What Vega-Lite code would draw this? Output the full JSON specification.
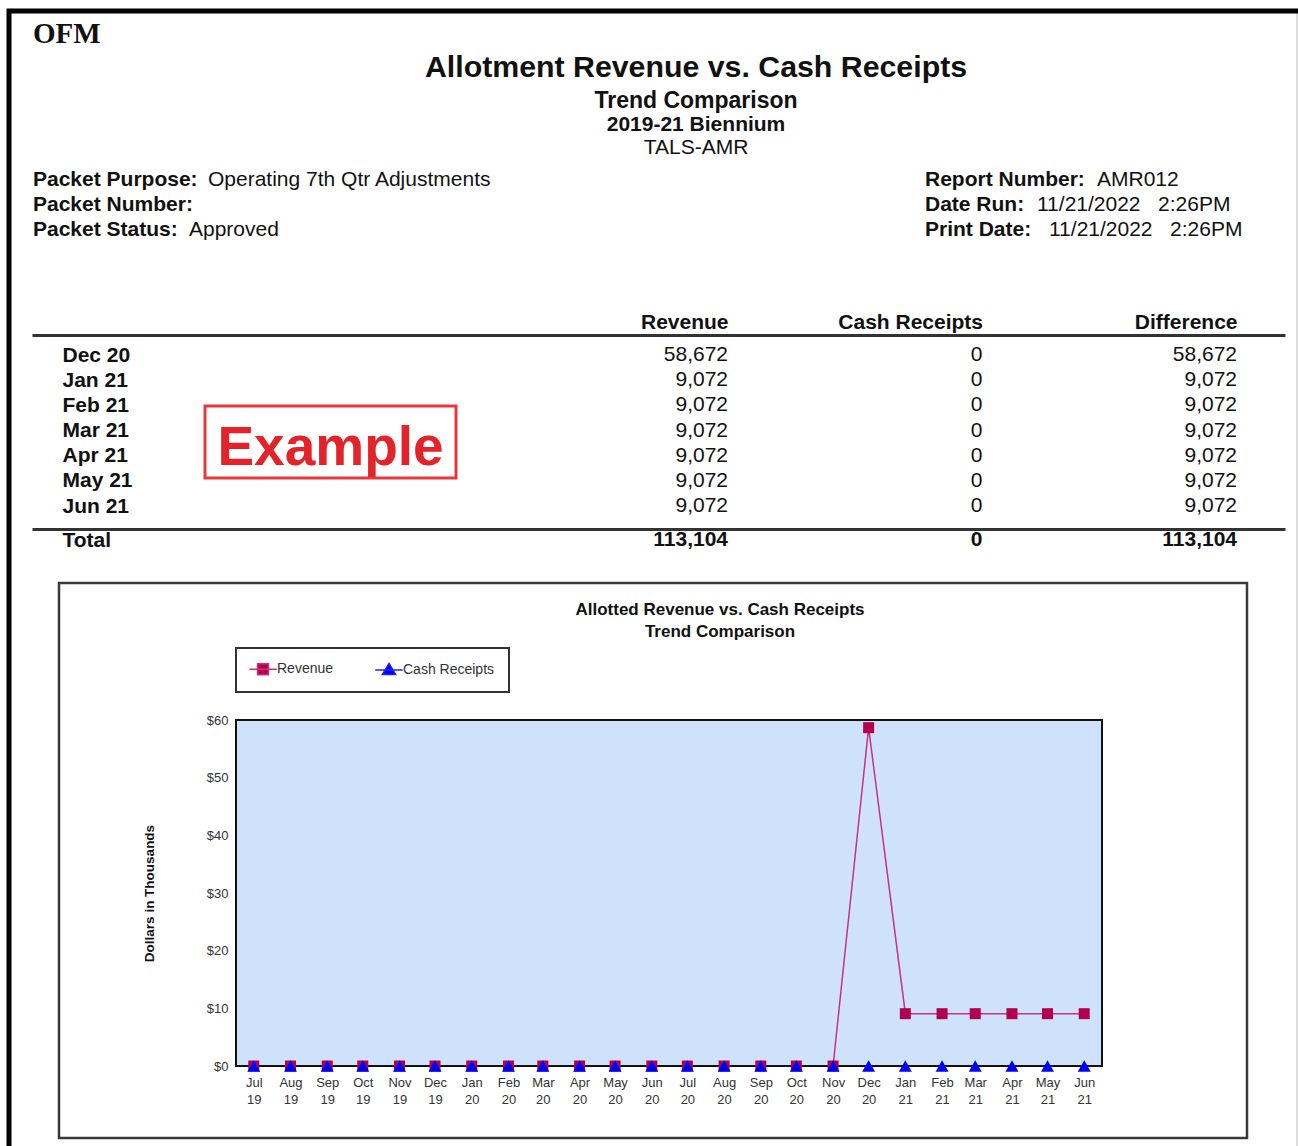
{
"$schema": "https://vega.github.io/schema/vega-lite/v6.json",
"autosize": "none",
"width": 1289,
"height": 1135,
"padding": {"left": 9, "top": 11, "right": 0, "bottom": 0},
"background": "#ffffff",
"config": {
  "view": {"stroke": null},
  "font": "Liberation Sans",
  "text": {"font": "Liberation Sans", "fontSize": 21, "color": "#111111", "baseline": "middle"},
  "axis": {"labelFont": "Liberation Sans", "titleFont": "Liberation Sans"},
  "legend": {"labelFont": "Liberation Sans", "strokeWidth": 2}
},
"datasets": {
  "info": [
    {"side": "left", "line": "i1", "label": "Packet Purpose:", "value": "Operating 7th Qtr Adjustments"},
    {"side": "left", "line": "i2", "label": "Packet Number:", "value": ""},
    {"side": "left", "line": "i3", "label": "Packet Status:", "value": "Approved"},
    {"side": "right", "line": "i1", "label": "Report Number:", "value": "AMR012"},
    {"side": "right", "line": "i2", "label": "Date Run:", "value": "11/21/2022\u00a0\u00a0\u00a02:26PM"},
    {"side": "right", "line": "i3", "label": "Print Date:", "value": "11/21/2022\u00a0\u00a0\u00a02:26PM"}
  ],
  "table": [
    {"month": "Dec 20", "Revenue": 58672, "Cash Receipts": 0, "Difference": 58672},
    {"month": "Jan 21", "Revenue": 9072, "Cash Receipts": 0, "Difference": 9072},
    {"month": "Feb 21", "Revenue": 9072, "Cash Receipts": 0, "Difference": 9072},
    {"month": "Mar 21", "Revenue": 9072, "Cash Receipts": 0, "Difference": 9072},
    {"month": "Apr 21", "Revenue": 9072, "Cash Receipts": 0, "Difference": 9072},
    {"month": "May 21", "Revenue": 9072, "Cash Receipts": 0, "Difference": 9072},
    {"month": "Jun 21", "Revenue": 9072, "Cash Receipts": 0, "Difference": 9072}
  ],
  "total": [
    {"month": "Total", "Revenue": 113104, "Cash Receipts": 0, "Difference": 113104}
  ],
  "trend": [
    {"date": "2019-07-01", "series": "Revenue", "value": 0},
    {"date": "2019-08-01", "series": "Revenue", "value": 0},
    {"date": "2019-09-01", "series": "Revenue", "value": 0},
    {"date": "2019-10-01", "series": "Revenue", "value": 0},
    {"date": "2019-11-01", "series": "Revenue", "value": 0},
    {"date": "2019-12-01", "series": "Revenue", "value": 0},
    {"date": "2020-01-01", "series": "Revenue", "value": 0},
    {"date": "2020-02-01", "series": "Revenue", "value": 0},
    {"date": "2020-03-01", "series": "Revenue", "value": 0},
    {"date": "2020-04-01", "series": "Revenue", "value": 0},
    {"date": "2020-05-01", "series": "Revenue", "value": 0},
    {"date": "2020-06-01", "series": "Revenue", "value": 0},
    {"date": "2020-07-01", "series": "Revenue", "value": 0},
    {"date": "2020-08-01", "series": "Revenue", "value": 0},
    {"date": "2020-09-01", "series": "Revenue", "value": 0},
    {"date": "2020-10-01", "series": "Revenue", "value": 0},
    {"date": "2020-11-01", "series": "Revenue", "value": 0},
    {"date": "2020-12-01", "series": "Revenue", "value": 58.672},
    {"date": "2021-01-01", "series": "Revenue", "value": 9.072},
    {"date": "2021-02-01", "series": "Revenue", "value": 9.072},
    {"date": "2021-03-01", "series": "Revenue", "value": 9.072},
    {"date": "2021-04-01", "series": "Revenue", "value": 9.072},
    {"date": "2021-05-01", "series": "Revenue", "value": 9.072},
    {"date": "2021-06-01", "series": "Revenue", "value": 9.072},
    {"date": "2019-07-01", "series": "Cash Receipts", "value": 0},
    {"date": "2019-08-01", "series": "Cash Receipts", "value": 0},
    {"date": "2019-09-01", "series": "Cash Receipts", "value": 0},
    {"date": "2019-10-01", "series": "Cash Receipts", "value": 0},
    {"date": "2019-11-01", "series": "Cash Receipts", "value": 0},
    {"date": "2019-12-01", "series": "Cash Receipts", "value": 0},
    {"date": "2020-01-01", "series": "Cash Receipts", "value": 0},
    {"date": "2020-02-01", "series": "Cash Receipts", "value": 0},
    {"date": "2020-03-01", "series": "Cash Receipts", "value": 0},
    {"date": "2020-04-01", "series": "Cash Receipts", "value": 0},
    {"date": "2020-05-01", "series": "Cash Receipts", "value": 0},
    {"date": "2020-06-01", "series": "Cash Receipts", "value": 0},
    {"date": "2020-07-01", "series": "Cash Receipts", "value": 0},
    {"date": "2020-08-01", "series": "Cash Receipts", "value": 0},
    {"date": "2020-09-01", "series": "Cash Receipts", "value": 0},
    {"date": "2020-10-01", "series": "Cash Receipts", "value": 0},
    {"date": "2020-11-01", "series": "Cash Receipts", "value": 0},
    {"date": "2020-12-01", "series": "Cash Receipts", "value": 0},
    {"date": "2021-01-01", "series": "Cash Receipts", "value": 0},
    {"date": "2021-02-01", "series": "Cash Receipts", "value": 0},
    {"date": "2021-03-01", "series": "Cash Receipts", "value": 0},
    {"date": "2021-04-01", "series": "Cash Receipts", "value": 0},
    {"date": "2021-05-01", "series": "Cash Receipts", "value": 0},
    {"date": "2021-06-01", "series": "Cash Receipts", "value": 0}
  ]
},
"layer": [
  {
    "data": {"values": [{}]},
    "mark": {"type": "rect", "filled": false, "stroke": "#bbbbbb", "strokeWidth": 1},
    "encoding": {
      "x": {"datum": 0, "type": "quantitative", "scale": {"domain": [0, 1], "range": [0, 1288], "nice": false, "zero": false}, "axis": null},
      "x2": {"datum": 1},
      "y": {"datum": 0, "type": "quantitative", "scale": {"domain": [0, 1], "range": [0, 1300], "nice": false, "zero": false}, "axis": null},
      "y2": {"datum": 1}
    }
  },
  {
    "data": {"values": [{}]},
    "mark": {"type": "rect", "filled": false, "stroke": "#000000", "strokeWidth": 5},
    "encoding": {
      "x": {"datum": 0, "type": "quantitative", "scale": {"domain": [0, 1], "range": [0, 1400], "nice": false, "zero": false}, "axis": null},
      "x2": {"datum": 1},
      "y": {"datum": 0, "type": "quantitative", "scale": {"domain": [0, 1], "range": [0, 1300], "nice": false, "zero": false}, "axis": null},
      "y2": {"datum": 1}
    }
  },
  {
    "layer": [
      {
        "data": {"values": [{"text": "OFM"}]},
        "mark": {"type": "text", "font": "Liberation Serif", "fontWeight": "bold", "fontSize": 29, "align": "left"},
        "encoding": {
          "x": {"datum": "left", "type": "nominal", "scale": {"type": "point", "domain": ["left", "center"], "range": [24, 687], "padding": 0}, "axis": null},
          "y": {"datum": "ofm", "type": "nominal", "scale": {"type": "point", "domain": ["ofm", "title"], "range": [23, 57], "padding": 0}, "axis": null},
          "text": {"field": "text"}
        }
      },
      {
        "data": {"values": [{"text": "Allotment Revenue vs. Cash Receipts"}]},
        "mark": {"type": "text", "fontWeight": "bold", "fontSize": 30.3, "align": "center"},
        "encoding": {
          "x": {"datum": "center", "type": "nominal", "scale": {"type": "point", "domain": ["left", "center"], "range": [24, 687], "padding": 0}, "axis": null},
          "y": {"datum": "title", "type": "nominal", "scale": {"type": "point", "domain": ["ofm", "title"], "range": [23, 57], "padding": 0}, "axis": null},
          "text": {"field": "text"}
        }
      }
    ]
  },
  {
    "layer": [
      {
        "data": {"values": [{"text": "Trend Comparison"}]},
        "mark": {"type": "text", "fontWeight": "bold", "fontSize": 23, "align": "center"},
        "encoding": {
          "x": {"datum": "center", "type": "nominal", "scale": {"type": "point", "domain": ["center"], "range": [687, 687], "padding": 0}, "axis": null},
          "y": {"datum": "tc", "type": "nominal", "scale": {"type": "point", "domain": ["tc", "bien", "tals"], "range": [90, 137], "padding": 0}, "axis": null},
          "text": {"field": "text"}
        }
      },
      {
        "data": {"values": [{"text": "2019-21 Biennium"}]},
        "mark": {"type": "text", "fontWeight": "bold", "fontSize": 21, "align": "center"},
        "encoding": {
          "x": {"datum": "center", "type": "nominal", "scale": {"type": "point", "domain": ["center"], "range": [687, 687], "padding": 0}, "axis": null},
          "y": {"datum": "bien", "type": "nominal", "scale": {"type": "point", "domain": ["tc", "bien", "tals"], "range": [90, 137], "padding": 0}, "axis": null},
          "text": {"field": "text"}
        }
      },
      {
        "data": {"values": [{"text": "TALS-AMR"}]},
        "mark": {"type": "text", "fontSize": 21, "align": "center"},
        "encoding": {
          "x": {"datum": "center", "type": "nominal", "scale": {"type": "point", "domain": ["center"], "range": [687, 687], "padding": 0}, "axis": null},
          "y": {"datum": "tals", "type": "nominal", "scale": {"type": "point", "domain": ["tc", "bien", "tals"], "range": [90, 137], "padding": 0}, "axis": null},
          "text": {"field": "text"}
        }
      }
    ]
  },
  {
    "data": {"name": "info"},
    "encoding": {
      "x": {"field": "side", "type": "nominal", "scale": {"type": "point", "domain": ["left", "right"], "range": [24, 916], "padding": 0}, "axis": null},
      "y": {"field": "line", "type": "nominal", "scale": {"type": "point", "domain": ["i1", "i2", "i3"], "range": [169, 219], "padding": 0}, "axis": null}
    },
    "layer": [
      {"mark": {"type": "text", "fontWeight": "bold", "align": "left"}, "encoding": {"text": {"field": "label"}}},
      {"transform": [{"filter": "datum.label == 'Packet Purpose:'"}], "mark": {"type": "text", "align": "left", "dx": 175}, "encoding": {"text": {"field": "value"}}},
      {"transform": [{"filter": "datum.label == 'Packet Status:'"}], "mark": {"type": "text", "align": "left", "dx": 156}, "encoding": {"text": {"field": "value"}}},
      {"transform": [{"filter": "datum.label == 'Report Number:'"}], "mark": {"type": "text", "align": "left", "dx": 172}, "encoding": {"text": {"field": "value"}}},
      {"transform": [{"filter": "datum.label == 'Date Run:'"}], "mark": {"type": "text", "align": "left", "dx": 112}, "encoding": {"text": {"field": "value"}}},
      {"transform": [{"filter": "datum.label == 'Print Date:'"}], "mark": {"type": "text", "align": "left", "dx": 124}, "encoding": {"text": {"field": "value"}}}
    ]
  },
  {
    "data": {"name": "table"},
    "transform": [{"fold": ["Revenue", "Cash Receipts", "Difference"], "as": ["col", "val"]}],
    "mark": {"type": "text", "align": "right"},
    "encoding": {
      "x": {"field": "col", "type": "nominal",
        "scale": {"type": "point", "domain": ["", "Revenue", "Cash Receipts", "Difference"], "range": [23, 1276], "padding": 0.9617, "align": 0.902},
        "axis": {"orient": "top", "offset": -324, "title": null, "ticks": false, "tickSize": 0, "grid": false, "domainColor": "#333333", "domainWidth": 3, "labelFontSize": 21, "labelFontWeight": "bold", "labelColor": "#111111", "labelAlign": "right", "labelAngle": 0, "labelPadding": 3}},
      "y": {"field": "month", "type": "nominal",
        "scale": {"type": "point", "domain": ["Dec 20", "Jan 21", "Feb 21", "Mar 21", "Apr 21", "May 21", "Jun 21"], "range": [344, 495], "padding": 0},
        "axis": {"orient": "left", "offset": -53, "title": null, "ticks": false, "tickSize": 0, "domain": false, "grid": false, "labelAlign": "left", "labelPadding": 0, "labelFontSize": 21, "labelFontWeight": "bold", "labelColor": "#111111"}},
      "text": {"field": "val", "type": "quantitative", "format": ","}
    }
  },
  {
    "data": {"name": "total"},
    "transform": [{"fold": ["Revenue", "Cash Receipts", "Difference"], "as": ["col", "val"]}],
    "mark": {"type": "text", "align": "right", "fontWeight": "bold"},
    "encoding": {
      "x": {"field": "col", "type": "nominal",
        "scale": {"type": "point", "domain": ["", "Revenue", "Cash Receipts", "Difference"], "range": [23, 1276], "padding": 0.9617, "align": 0.902},
        "axis": {"orient": "top", "offset": -518, "title": null, "ticks": false, "tickSize": 0, "grid": false, "labels": false, "domainColor": "#333333", "domainWidth": 3}},
      "y": {"field": "month", "type": "nominal",
        "scale": {"type": "point", "domain": ["Total"], "range": [519, 539], "padding": 0.5},
        "axis": {"orient": "left", "offset": -53, "title": null, "ticks": false, "tickSize": 0, "domain": false, "grid": false, "labelAlign": "left", "labelPadding": 0, "labelFontSize": 21, "labelFontWeight": "bold", "labelColor": "#111111"}},
      "text": {"field": "val", "type": "quantitative", "format": ","}
    }
  },
  {
    "layer": [
      {
        "data": {"values": [{}]},
        "mark": {"type": "rect", "filled": false, "stroke": "#e8383d", "strokeWidth": 3},
        "encoding": {
          "x": {"datum": 0, "type": "quantitative", "scale": {"domain": [0, 1], "range": [196, 447], "nice": false, "zero": false}, "axis": null},
          "x2": {"datum": 1},
          "y": {"datum": 0, "type": "quantitative", "scale": {"domain": [0, 1], "range": [395, 467], "nice": false, "zero": false}, "axis": null},
          "y2": {"datum": 1}
        }
      },
      {
        "data": {"values": [{"text": "Example"}]},
        "mark": {"type": "text", "fontWeight": "bold", "fontSize": 55, "color": "#e3222a", "align": "center", "dy": 6},
        "encoding": {
          "x": {"datum": 0.5, "type": "quantitative"},
          "y": {"datum": 0.5, "type": "quantitative"},
          "text": {"field": "text"}
        }
      }
    ]
  },
  {
    "data": {"values": [{}]},
    "mark": {"type": "rect", "filled": false, "stroke": "#3a3a3a", "strokeWidth": 2.5},
    "encoding": {
      "x": {"datum": 0, "type": "quantitative", "scale": {"domain": [0, 1], "range": [50, 1238], "nice": false, "zero": false}, "axis": null},
      "x2": {"datum": 1},
      "y": {"datum": 0, "type": "quantitative", "scale": {"domain": [0, 1], "range": [572, 1127], "nice": false, "zero": false}, "axis": null},
      "y2": {"datum": 1}
    }
  },
  {
    "layer": [
      {
        "data": {"values": [{"text": "Allotted Revenue vs. Cash Receipts"}]},
        "mark": {"type": "text", "fontWeight": "bold", "fontSize": 17, "align": "center"},
        "encoding": {
          "x": {"datum": "c", "type": "nominal", "scale": {"type": "point", "domain": ["c"], "range": [711, 711], "padding": 0}, "axis": null},
          "y": {"datum": "t1", "type": "nominal", "scale": {"type": "point", "domain": ["t1", "t2"], "range": [599, 621], "padding": 0}, "axis": null},
          "text": {"field": "text"}
        }
      },
      {
        "data": {"values": [{"text": "Trend Comparison"}]},
        "mark": {"type": "text", "fontWeight": "bold", "fontSize": 17, "align": "center"},
        "encoding": {
          "x": {"datum": "c", "type": "nominal", "scale": {"type": "point", "domain": ["c"], "range": [711, 711], "padding": 0}, "axis": null},
          "y": {"datum": "t2", "type": "nominal", "scale": {"type": "point", "domain": ["t1", "t2"], "range": [599, 621], "padding": 0}, "axis": null},
          "text": {"field": "text"}
        }
      }
    ]
  },
  {
    "layer": [
      {
        "data": {"values": [{}]},
        "mark": {"type": "rect", "fill": "#cfe2fb"},
        "encoding": {
          "x": {"datum": {"year": 2019, "month": 6, "date": 16, "utc": true}, "type": "temporal",
            "scale": {"type": "utc", "domain": [{"year": 2019, "month": 6, "date": 16, "utc": true}, {"year": 2021, "month": 6, "date": 16, "utc": true}], "range": [227, 1093], "nice": false},
            "axis": {"orient": "bottom", "offset": -80, "title": null, "domain": false, "ticks": false, "tickSize": 0, "grid": false, "tickCount": {"interval": "month", "step": 1}, "labelExpr": "[utcFormat(datum.value, '%b'), utcFormat(datum.value, '%y')]", "labelFontSize": 13, "labelColor": "#333333", "labelPadding": 10, "labelLineHeight": 17, "labelOverlap": false, "labelFlush": false, "labelBound": false}},
          "x2": {"datum": {"year": 2021, "month": 6, "date": 16, "utc": true}},
          "y": {"datum": 0, "type": "quantitative",
            "scale": {"domain": [0, 60], "range": [1055, 709], "nice": false, "zero": false},
            "axis": {"orient": "left", "offset": -227, "title": "Dollars in Thousands", "titleFontSize": 13.5, "titleFontWeight": "bold", "titleColor": "#111111", "titlePadding": 50, "domain": false, "ticks": false, "tickSize": 0, "grid": false, "values": [0, 10, 20, 30, 40, 50, 60], "labelExpr": "'$' + datum.value", "labelFontSize": 13, "labelColor": "#333333", "labelPadding": 8}},
          "y2": {"datum": 60}
        }
      },
      {
        "data": {"name": "trend"},
        "transform": [{"filter": "datum.series == 'Cash Receipts'"}],
        "mark": {"type": "line", "color": "#2020ff", "strokeWidth": 1.5},
        "encoding": {
          "x": {"field": "date", "type": "temporal"},
          "y": {"field": "value", "type": "quantitative"}
        }
      },
      {
        "data": {"name": "trend"},
        "transform": [{"filter": "datum.series == 'Revenue'"}],
        "mark": {"type": "line", "color": "#c8327f", "strokeWidth": 1.5},
        "encoding": {
          "x": {"field": "date", "type": "temporal"},
          "y": {"field": "value", "type": "quantitative"}
        }
      },
      {
        "data": {"values": [{}]},
        "mark": {"type": "rect", "filled": false, "stroke": "#111111", "strokeWidth": 2},
        "encoding": {
          "x": {"datum": {"year": 2019, "month": 6, "date": 16, "utc": true}, "type": "temporal"},
          "x2": {"datum": {"year": 2021, "month": 6, "date": 16, "utc": true}},
          "y": {"datum": 0, "type": "quantitative"},
          "y2": {"datum": 60}
        }
      },
      {
        "data": {"name": "trend"},
        "transform": [{"filter": "datum.series == 'Revenue'"}],
        "mark": {"type": "point", "filled": true, "shape": "square", "size": 121, "opacity": 1, "color": "#b2004e"},
        "encoding": {
          "x": {"field": "date", "type": "temporal"},
          "y": {"field": "value", "type": "quantitative"}
        }
      },
      {
        "data": {"name": "trend"},
        "transform": [{"filter": "datum.series == 'Cash Receipts'"}],
        "mark": {"type": "point", "filled": true, "shape": "triangle-up", "size": 169, "opacity": 1, "color": "#0000f0"},
        "encoding": {
          "x": {"field": "date", "type": "temporal"},
          "y": {"field": "value", "type": "quantitative"}
        }
      },
      {
        "data": {"name": "trend"},
        "transform": [{"filter": "false"}],
        "mark": {"type": "point", "filled": true, "opacity": 1},
        "encoding": {
          "fill": {"field": "series", "type": "nominal",
            "scale": {"domain": ["Revenue", "Cash Receipts"], "range": ["#b2004e", "#0000f0"]},
            "legend": {"title": null, "orient": "none", "legendX": 227, "legendY": 637, "direction": "horizontal", "strokeColor": "#333333", "padding": 14, "symbolOffset": 6, "labelOffset": 7, "columnPadding": 38, "labelFontSize": 14, "labelColor": "#333333", "symbolSize": 121, "symbolStrokeWidth": 1.5}},
          "stroke": {"field": "series", "type": "nominal",
            "scale": {"domain": ["Revenue", "Cash Receipts"], "range": ["#c8327f", "#2020ff"]},
            "legend": {"title": null, "orient": "none", "legendX": 227, "legendY": 637, "direction": "horizontal", "strokeColor": "#333333", "padding": 14, "symbolOffset": 6, "labelOffset": 7, "columnPadding": 38, "labelFontSize": 14, "labelColor": "#333333", "symbolSize": 121, "symbolStrokeWidth": 1.5}},
          "shape": {"field": "series", "type": "nominal",
            "scale": {"domain": ["Revenue", "Cash Receipts"], "range": ["M-2.5,0H2.5M-1,-1H1V1H-1Z", "M-2.5,0.1H2.5M0,-1.1L1.2,0.9H-1.2Z"]},
            "legend": {"title": null, "orient": "none", "legendX": 227, "legendY": 637, "direction": "horizontal", "strokeColor": "#333333", "padding": 14, "symbolOffset": 6, "labelOffset": 7, "columnPadding": 38, "labelFontSize": 14, "labelColor": "#333333", "symbolSize": 121, "symbolStrokeWidth": 1.5}}
        }
      }
    ]
  }
],
"resolve": {"scale": {"x": "independent", "y": "independent", "color": "independent", "shape": "independent", "fill": "independent", "stroke": "independent"}}
}
